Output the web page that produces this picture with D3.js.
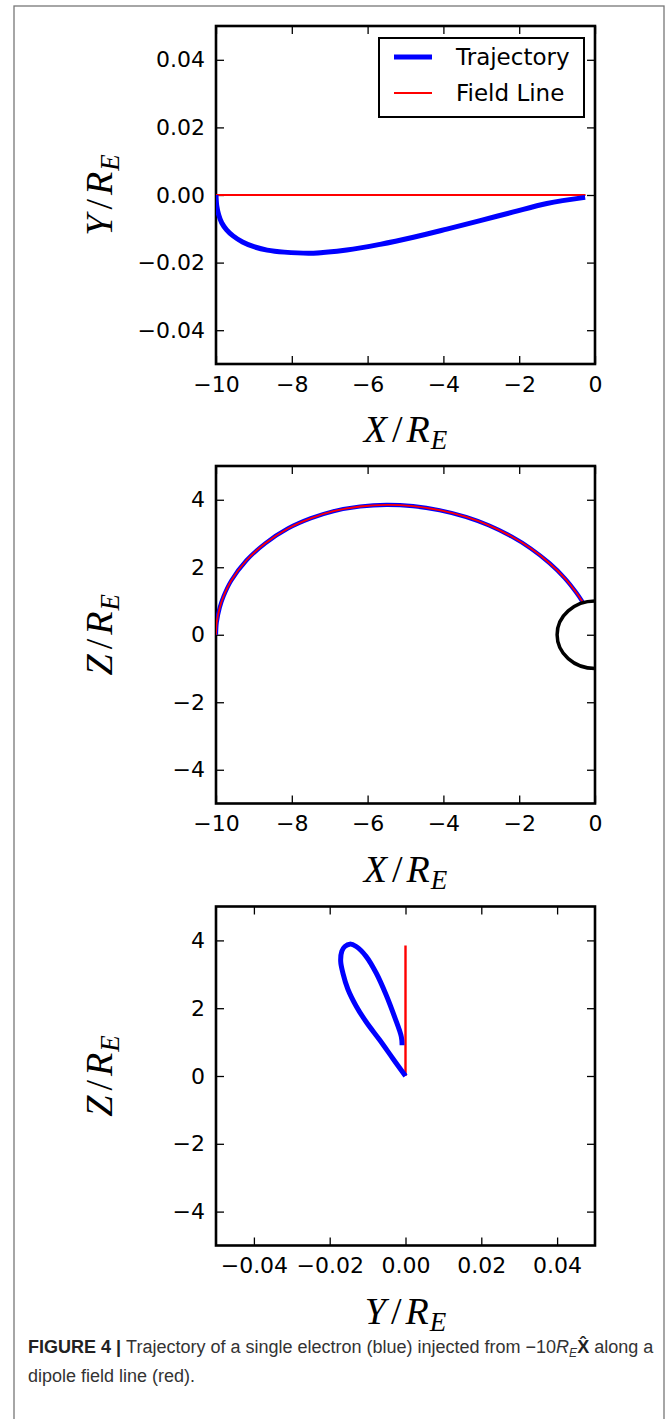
<!DOCTYPE html>
<html>
<head>
<meta charset="utf-8">
<script src="https://cdn.jsdelivr.net/npm/d3@7"></script>
<style>
body { margin: 0; background: #fff; }
svg { display: block; }
</style>
</head>
<body>
<svg id="fig" width="670" height="1419"></svg>
<script>
// panel 1: Y vs X
var trajTopX = [-10, -9.98, -9.93, -9.85, -9.72, -9.55, -9.3, -9.0, -8.65, -8.2, -7.43, -6.55, -5.67, -4.79, -3.91, -3.03, -2.15, -1.27, -0.26];
var trajTopY = [0, -0.0032, -0.0058, -0.0082, -0.0103, -0.0121, -0.0139, -0.0153, -0.0163, -0.0169, -0.0172, -0.0163, -0.0146, -0.0125, -0.0101, -0.0076, -0.0050, -0.0025, -0.0007];
var fieldTopX = [-10, -0.25];
var fieldTopY = [0, 0];

// panel 2: Z vs X (trajectory sits on the field line)
var fieldMidX = [-10, -9.98, -9.9, -9.8, -9.6, -9.2, -8.7, -8.1, -7.5, -6.9, -6.2, -5.5, -4.8, -4.1, -3.4, -2.8, -2.2, -1.7, -1.2, -0.8, -0.5, -0.32];
var fieldMidZ = [0, 0.37, 0.81, 1.14, 1.6, 2.2, 2.71, 3.15, 3.45, 3.66, 3.8, 3.85, 3.81, 3.69, 3.49, 3.24, 2.91, 2.56, 2.12, 1.68, 1.26, 0.96];
var trajMidX = fieldMidX.slice();
var trajMidZ = fieldMidZ.slice();
var earthRadius = 1;

// panel 3: Z vs Y
var trajBotY = [0, -0.0033, -0.0068, -0.0104, -0.013, -0.0152, -0.0165, -0.0171, -0.0168, -0.016, -0.0147, -0.013, -0.0104, -0.0077, -0.0051, -0.0029, -0.0011, -0.0009];
var trajBotZ = [0, 0.51, 1.06, 1.6, 2.06, 2.56, 3.03, 3.38, 3.68, 3.82, 3.89, 3.82, 3.53, 3.03, 2.39, 1.75, 1.16, 0.91];
var fieldBotY = [0, 0];
var fieldBotZ = [0, 3.85];

// ticks
var ticksX = [-10, -8, -6, -4, -2, 0];
var labelsX = ["\u221210", "\u22128", "\u22126", "\u22124", "\u22122", "0"];
var ticksSmall = [-0.04, -0.02, 0, 0.02, 0.04];
var labelsSmall = ["\u22120.04", "\u22120.02", "0.00", "0.02", "0.04"];
var ticksZ = [-4, -2, 0, 2, 4];
var labelsZ = ["\u22124", "\u22122", "0", "2", "4"];

var legendNames = ["Trajectory", "Field Line"];

var svg = d3.select("#fig");
var L = 216, R = 595;

// outer frame of the figure
svg.append("rect").attr("x", 14).attr("y", 6).attr("width", 650).attr("height", 1430)
    .attr("fill", "none").attr("stroke", "#777").attr("stroke-width", 1.3);

function zip(a, b) { return a.map(function(v, i) { return [v, b[i]]; }); }

function panel(top, bot, xdom, ydom, xt, xl, yt, yl, xname, yname, id) {
    var x = d3.scaleLinear().domain(xdom).range([L, R]);
    var y = d3.scaleLinear().domain(ydom).range([bot, top]);
    var g = svg.append("g");

    svg.append("clipPath").attr("id", id).append("rect")
        .attr("x", L).attr("y", top).attr("width", R - L).attr("height", bot - top);

    function fmt(ticks, labels) { return function(d) { return labels[ticks.indexOf(d)]; }; }

    var ax = [
        [d3.axisBottom(x).tickValues(xt).tickFormat(fmt(xt, xl)).tickPadding(12), bot],
        [d3.axisTop(x).tickValues(xt).tickFormat(""), top]
    ];
    ax.forEach(function(a) {
        g.append("g").attr("transform", "translate(0," + a[1] + ")")
            .call(a[0].tickSizeInner(-8).tickSizeOuter(0));
    });
    var ay = [
        [d3.axisLeft(y).tickValues(yt).tickFormat(fmt(yt, yl)).tickPadding(11), L],
        [d3.axisRight(y).tickValues(yt).tickFormat(""), R]
    ];
    ay.forEach(function(a) {
        g.append("g").attr("transform", "translate(" + a[1] + ",0)")
            .call(a[0].tickSizeInner(-8).tickSizeOuter(0));
    });
    g.selectAll(".domain").remove();
    g.selectAll(".tick line").attr("stroke", "#000").attr("stroke-width", 1.3);
    g.selectAll(".tick text").attr("fill", "#000")
        .style("font-family", "'DejaVu Sans'").style("font-size", "22px");

    mathLabel(xname, (L + R) / 2, bot + 78, 0);
    mathLabel(yname, 112, (top + bot) / 2, -90);

    var plot = svg.append("g").attr("clip-path", "url(#" + id + ")");
    return { x: x, y: y, plot: plot, g: g, top: top, bot: bot };
}

function mathLabel(letter, cx, cy, rot) {
    var t = svg.append("text")
        .attr("transform", "translate(" + cx + "," + cy + ") rotate(" + rot + ")")
        .attr("text-anchor", "middle")
        .style("font-family", "'Liberation Serif', serif").style("font-size", "38px")
        .attr("fill", "#000");
    t.append("tspan").style("font-style", "italic").text(letter);
    t.append("tspan").attr("dx", 5).text("/");
    t.append("tspan").attr("dx", 4).style("font-style", "italic").text("R");
    t.append("tspan").attr("dy", 7).attr("dx", 1).style("font-style", "italic").style("font-size", "27px").text("E");
}

function frame(p) {
    p.g.append("rect").attr("x", L).attr("y", p.top).attr("width", R - L).attr("height", p.bot - p.top)
        .attr("fill", "none").attr("stroke", "#000").attr("stroke-width", 2.6);
}

function curve(p, xs, ys, color, w) {
    var line = d3.line().x(function(d) { return p.x(d[0]); }).y(function(d) { return p.y(d[1]); })
        .curve(d3.curveCatmullRom.alpha(0.5));
    p.plot.append("path").datum(zip(xs, ys)).attr("d", line)
        .attr("fill", "none").attr("stroke", color).attr("stroke-width", w);
}

var BLUE = "#0000ff", RED = "#ff0000";

// ---- panel 1
var p1 = panel(26, 364, [-10, 0], [-0.05, 0.05], ticksX, labelsX, ticksSmall, labelsSmall, "X", "Y", "c1");
curve(p1, fieldTopX, fieldTopY, RED, 2.2);
curve(p1, trajTopX, trajTopY, BLUE, 5);
frame(p1);

// legend
var lg = svg.append("g");
lg.append("rect").attr("x", 379).attr("y", 38).attr("width", 205).attr("height", 79)
    .attr("fill", "#fff").attr("stroke", "#000").attr("stroke-width", 2);
[[BLUE, 5, 57], [RED, 2.2, 93]].forEach(function(s, i) {
    lg.append("line").attr("x1", 394).attr("x2", 432).attr("y1", s[2]).attr("y2", s[2])
        .attr("stroke", s[0]).attr("stroke-width", s[1]);
    lg.append("text").attr("x", 456).attr("y", s[2]).attr("dy", "0.36em")
        .style("font-family", "'DejaVu Sans'").style("font-size", "23px").text(legendNames[i]);
});

// ---- panel 2
var p2 = panel(466, 803.5, [-10, 0], [-5, 5], ticksX, labelsX, ticksZ, labelsZ, "X", "Z", "c2");
curve(p2, trajMidX, trajMidZ, BLUE, 4.2);
curve(p2, fieldMidX, fieldMidZ, RED, 1.8);
p2.plot.append("ellipse")
    .attr("cx", p2.x(0)).attr("cy", p2.y(0))
    .attr("rx", p2.x(0) - p2.x(-earthRadius)).attr("ry", p2.y(0) - p2.y(earthRadius))
    .attr("fill", "none").attr("stroke", "#000").attr("stroke-width", 3.5);
frame(p2);

// ---- panel 3
var p3 = panel(906.5, 1245.5, [-0.05, 0.05], [-5, 5], ticksSmall, labelsSmall, ticksZ, labelsZ, "Y", "Z", "c3");
curve(p3, fieldBotY, fieldBotZ, RED, 2.4);
curve(p3, trajBotY, trajBotZ, BLUE, 5);
frame(p3);

// ---- caption
var cap = svg.append("g").style("font-family", "'Liberation Sans', Arial, sans-serif")
    .style("font-size", "18px").attr("fill", "#333");
var c1 = cap.append("text").attr("x", 28).attr("y", 1353);
c1.append("tspan").style("font-weight", "bold").attr("fill", "#222").text("FIGURE 4 | ");
c1.append("tspan").text("Trajectory of a single electron (blue) injected from \u221210");
c1.append("tspan").style("font-style", "italic").text("R");
c1.append("tspan").style("font-style", "italic").style("font-size", "12px").attr("dy", 4).text("E");
c1.append("tspan").style("font-weight", "bold").attr("fill", "#222").attr("dy", -4).text("X\u0302");
c1.append("tspan").text(" along a");
cap.append("text").attr("x", 28).attr("y", 1382).text("dipole field line (red).");
</script>
</body>
</html>
